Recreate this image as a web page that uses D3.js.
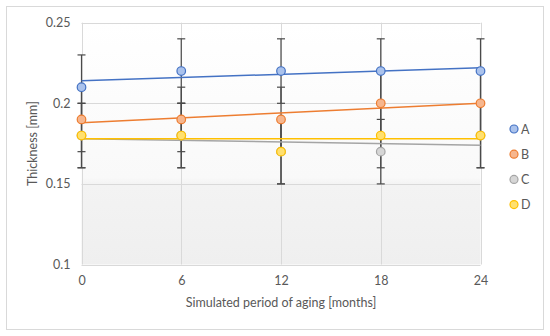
<!DOCTYPE html>
<html>
<head>
<meta charset="utf-8">
<script src="https://cdn.jsdelivr.net/npm/d3@7"></script>
<style>
  html, body { margin: 0; padding: 0; background: #fff; }
  text { font-family: Lato, "Open Sans", sans-serif; }
</style>
</head>
<body>
<svg id="chart" width="550" height="336"></svg>
<script>
// ---- data ----
const months = [0, 6, 12, 18, 24];
const seriesNames = ["A", "B", "C", "D"];
const valuesA = [0.21, 0.22, 0.22, 0.22, 0.22];
const valuesB = [0.19, 0.19, 0.19, 0.20, 0.20];
const valuesC = [0.18, 0.18, 0.17, 0.17, 0.18];
const valuesD = [0.18, 0.18, 0.17, 0.18, 0.18];
const errorA = [0.02, 0.02, 0.02, 0.02, 0.02];
const errorB = [0.02, 0.02, 0.02, 0.02, 0.02];
const errorC = [0.02, 0.02, 0.02, 0.02, 0.02];
const errorD = [0.02, 0.02, 0.02, 0.02, 0.02];
const yTicks = [0.1, 0.15, 0.2, 0.25];
const xTicks = [0, 6, 12, 18, 24];
const xTitle = "Simulated period of aging [months]";
const yTitle = "Thickness [mm]";

const colors = { A: "#4472C4", B: "#ED7D31", C: "#A5A5A5", D: "#FFC000" };
const fills  = { A: "#aac2ec", B: "#f6b68e", C: "#d6d6d6", D: "#ffe070" };

const series = [
  { name: "A", values: valuesA, errors: errorA },
  { name: "B", values: valuesB, errors: errorB },
  { name: "C", values: valuesC, errors: errorC },
  { name: "D", values: valuesD, errors: errorD }
];

const svg = d3.select("#chart");
const plot = { left: 81.5, top: 22.7, right: 480.5, bottom: 264.5 };
const x = d3.scaleLinear().domain([0, 24]).range([plot.left, plot.right]);
const y = d3.scaleLinear().domain([0.1, 0.25]).range([plot.bottom, plot.top]);

// outer border
svg.append("rect").attr("x", 6.5).attr("y", 6.5).attr("width", 537).attr("height", 323)
  .attr("fill", "#fff").attr("stroke", "#d9d9d9").attr("stroke-width", 1);

// plot background gradient
const defs = svg.append("defs");
const grad = defs.append("linearGradient").attr("id", "bg").attr("x1", 0).attr("y1", 0).attr("x2", 0).attr("y2", 1);
grad.append("stop").attr("offset", "0%").attr("stop-color", "#ffffff");
grad.append("stop").attr("offset", "64%").attr("stop-color", "#f9f9f9");
grad.append("stop").attr("offset", "67%").attr("stop-color", "#f3f3f3");
grad.append("stop").attr("offset", "100%").attr("stop-color", "#efefef");
svg.append("rect").attr("x", plot.left).attr("y", plot.top)
  .attr("width", plot.right - plot.left).attr("height", plot.bottom - plot.top)
  .attr("fill", "url(#bg)");

// gridlines
svg.append("g").selectAll("line").data(yTicks).join("line")
  .attr("x1", plot.left).attr("x2", plot.right)
  .attr("y1", d => Math.round(y(d)) + 0.5).attr("y2", d => Math.round(y(d)) + 0.5)
  .attr("stroke", "#d9d9d9").attr("stroke-width", 1);
svg.append("g").selectAll("line").data(xTicks).join("line")
  .attr("y1", plot.top).attr("y2", plot.bottom)
  .attr("x1", d => Math.round(x(d)) + 0.5).attr("x2", d => Math.round(x(d)) + 0.5)
  .attr("stroke", "#d9d9d9").attr("stroke-width", 1);

// axes (labels only)
const yAxis = d3.axisLeft(y).tickValues(yTicks).tickFormat(d3.format("")).tickSize(0).tickPadding(11);
const gy = svg.append("g").attr("transform", `translate(${plot.left},0)`).call(yAxis);
gy.select(".domain").remove();
gy.selectAll("text").attr("fill", "#595959").style("font-size", "12.5px");

const xAxis = d3.axisBottom(x).tickValues(xTicks).tickFormat(d3.format("d")).tickSize(0).tickPadding(12);
const gx = svg.append("g").attr("transform", `translate(0,${plot.bottom})`).call(xAxis);
gx.select(".domain").remove();
gx.selectAll("text").attr("fill", "#595959").style("font-size", "12.5px");

// axis titles
svg.append("text").attr("x", (plot.left + plot.right) / 2).attr("y", 307)
  .attr("text-anchor", "middle").attr("fill", "#595959").style("font-size", "12.5px").text(xTitle);
svg.append("text").attr("transform", `translate(37,${(plot.top + plot.bottom) / 2}) rotate(-90)`)
  .attr("text-anchor", "middle").attr("fill", "#595959").style("font-size", "12.5px").text(yTitle);

// error bars
const eb = svg.append("g");
series.forEach(s => {
  months.forEach((m, i) => {
    const cx = x(m), hi = y(s.values[i] + s.errors[i]), lo = y(s.values[i] - s.errors[i]);
    eb.append("line").attr("x1", cx).attr("x2", cx).attr("y1", hi).attr("y2", lo)
      .attr("stroke", "#4a4a4a").attr("stroke-width", 1.2);
    [hi, lo].forEach(yy => eb.append("line").attr("x1", cx - 4).attr("x2", cx + 4)
      .attr("y1", yy).attr("y2", yy).attr("stroke", "#4a4a4a").attr("stroke-width", 1.2));
  });
});

// linear trend lines (least squares fit)
function fit(xs, ys) {
  const mx = d3.mean(xs), my = d3.mean(ys);
  const slope = d3.sum(xs, (v, i) => (v - mx) * (ys[i] - my)) / d3.sum(xs, v => (v - mx) ** 2);
  return { slope, intercept: my - slope * mx };
}
const tg = svg.append("g");
series.forEach(s => {
  const f = fit(months, s.values);
  const x0 = d3.min(months), x1 = d3.max(months);
  tg.append("line").attr("x1", x(x0)).attr("x2", x(x1))
    .attr("y1", y(f.intercept + f.slope * x0)).attr("y2", y(f.intercept + f.slope * x1))
    .attr("stroke", colors[s.name]).attr("stroke-width", 1.5);
});

// markers
const mg = svg.append("g");
series.forEach(s => {
  mg.selectAll(null).data(s.values).join("circle")
    .attr("cx", (d, i) => x(months[i])).attr("cy", d => y(d)).attr("r", 4.3)
    .attr("fill", fills[s.name]).attr("stroke", colors[s.name]).attr("stroke-width", 1.2);
});

// legend
const lg = svg.append("g");
seriesNames.forEach((n, i) => {
  const ly = 129 + i * 25.2;
  lg.append("circle").attr("cx", 514).attr("cy", ly).attr("r", 4)
    .attr("fill", fills[n]).attr("stroke", colors[n]).attr("stroke-width", 1.2);
  lg.append("text").attr("x", 521).attr("y", ly).attr("dy", "0.36em")
    .attr("fill", "#595959").style("font-size", "12.5px").text(n);
});
</script>
</body>
</html>
